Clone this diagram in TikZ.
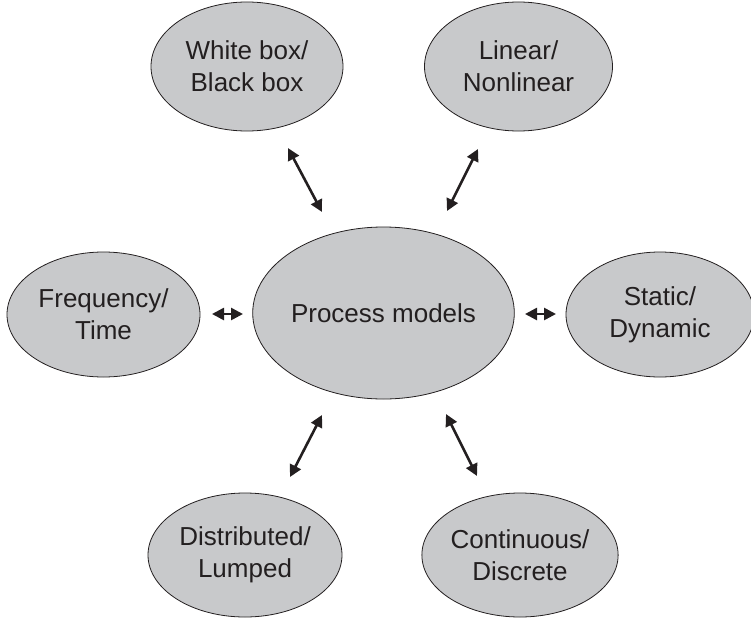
\documentclass[tikz,border=0pt]{standalone}
\usepackage{fontspec}
\setmainfont{Liberation Sans}
\usetikzlibrary{shapes.geometric,arrows.meta}
\definecolor{bubblefill}{RGB}{200,201,203}
\definecolor{inkdark}{RGB}{35,31,32}
\tikzset{
  bubble/.style={ellipse, draw=inkdark, line width=0.8pt, fill=bubblefill,
    inner sep=0pt, align=center, text=inkdark,
    font=\fontsize{26}{32}\selectfont},
  biarrow/.style={draw=inkdark, line width=2.6pt,
    {Triangle[length=12pt,width=12pt]}-{Triangle[length=12pt,width=12pt]}}
}
\begin{document}
\begin{tikzpicture}[x=1pt,y=-1pt]
  \useasboundingbox (0,0) rectangle (751,618);

  % central model class
  \node[bubble, minimum width=235pt, minimum height=172pt] (pm) at (383.5,313) {Process models};

  % surrounding classifications
  \node[bubble, minimum width=192pt, minimum height=129pt] (wb) at (247,66.5) {White box/\\Black box};
  \node[bubble, minimum width=188pt, minimum height=129pt] (ln) at (518.5,66.5) {Linear/\\Nonlinear};
  \node[bubble, minimum width=193pt, minimum height=125pt] (ft) at (103.5,314.5) {Frequency/\\Time};
  \node[bubble, minimum width=188pt, minimum height=125pt] (sd) at (660,314.5) {Static/\\Dynamic};
  \node[bubble, minimum width=194pt, minimum height=124pt] (dl) at (245,555) {Distributed/\\Lumped};
  \node[bubble, minimum width=190pt, minimum height=124pt] (cd) at (520,555) {Continuous/\\Discrete};

  % arrow end points between the bubbles
  \coordinate (wbA) at (288,148);  \coordinate (wbB) at (322,212);
  \coordinate (lnA) at (478,149);  \coordinate (lnB) at (447,211);
  \coordinate (ftA) at (212,314);  \coordinate (ftB) at (243,314);
  \coordinate (sdA) at (525,314);  \coordinate (sdB) at (556,314);
  \coordinate (dlA) at (290,477);  \coordinate (dlB) at (322,415);
  \coordinate (cdA) at (477,476);  \coordinate (cdB) at (446,414);

  \draw[biarrow] (wbA) -- (wbB);
  \draw[biarrow] (lnA) -- (lnB);
  \draw[biarrow] (ftA) -- (ftB);
  \draw[biarrow] (sdA) -- (sdB);
  \draw[biarrow] (dlA) -- (dlB);
  \draw[biarrow] (cdA) -- (cdB);
\end{tikzpicture}
\end{document}
